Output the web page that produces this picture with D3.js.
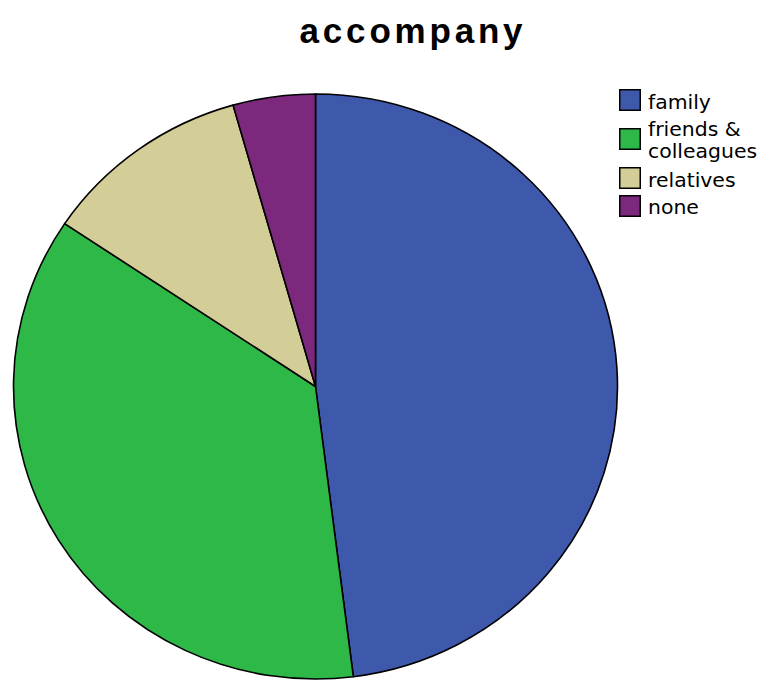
<!DOCTYPE html>
<html>
<head>
<meta charset="utf-8">
<script src="https://cdn.jsdelivr.net/npm/d3@7"></script>
<style>
  html, body { margin: 0; padding: 0; background: #fff; }
  svg { display: block; }
</style>
</head>
<body>
<svg id="chart" width="760" height="680"></svg>
<script>
// Who respondents were accompanied by (share of responses, %)
const categories = ["family", "friends & colleagues", "relatives", "none"];
const legendLines = [["family"], ["friends &", "colleagues"], ["relatives"], ["none"]];
const shares = [48.0, 36.4, 11.2, 4.4];
const colors = ["#3E58AC", "#2EB848", "#D3CE97", "#7C287D"];

const svg = d3.select("#chart");
const W = 760, H = 680;

svg.append("rect").attr("width", W).attr("height", H).attr("fill", "#fff");

// Title
svg.append("text")
  .attr("x", 413)
  .attr("y", 43)
  .attr("text-anchor", "middle")
  .attr("font-family", "'Liberation Sans', Arial, sans-serif")
  .attr("font-weight", "bold")
  .attr("font-size", 35)
  .attr("letter-spacing", 3.8)
  .attr("fill", "#000")
  .text("accompany");

// Pie (slightly wider than tall)
const cx = 315.5, cy = 386.5, ry = 292.5, rx = 302;
const pie = d3.pie().sort(null).value(d => d.v).startAngle(0).endAngle(2 * Math.PI);
const arc = d3.arc().innerRadius(0).outerRadius(ry);
const data = categories.map((c, i) => ({ c, v: shares[i], col: colors[i] }));

const g = svg.append("g")
  .attr("transform", `translate(${cx},${cy}) scale(${rx / ry},1)`);

g.selectAll("path")
  .data(pie(data))
  .join("path")
  .attr("d", arc)
  .attr("fill", d => d.data.col)
  .attr("stroke", "#000")
  .attr("stroke-width", 1.6)
  .attr("stroke-linejoin", "round")
  .attr("vector-effect", "non-scaling-stroke");

// Legend: swatch centres and text baselines per entry
const swatchCy = [100, 139, 178, 206];
const baselines = [[109], [136, 158], [187], [214]];
const legend = svg.append("g");
legendLines.forEach((lines, i) => {
  legend.append("rect")
    .attr("x", 619.75).attr("y", swatchCy[i] - 10.25)
    .attr("width", 20.5).attr("height", 20.5)
    .attr("fill", colors[i])
    .attr("stroke", "#000")
    .attr("stroke-width", 1.5);
  lines.forEach((t, j) => {
    legend.append("text")
      .attr("transform", `translate(648,${baselines[i][j]}) scale(1.02,1)`)
      .attr("font-family", "'DejaVu Sans', Verdana, sans-serif")
      .attr("font-size", 20)
      .attr("fill", "#000")
      .text(t);
  });
});
</script>
</body>
</html>
